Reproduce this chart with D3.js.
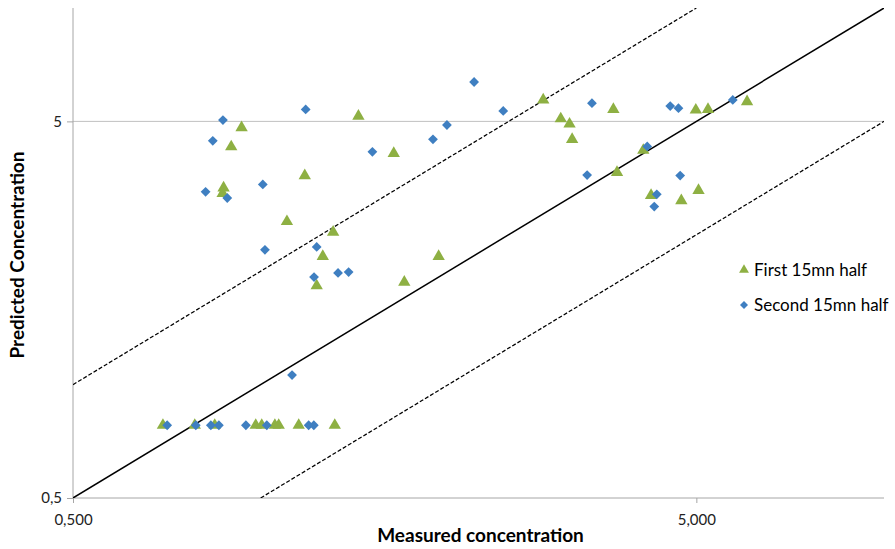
<!DOCTYPE html>
<html>
<head>
<script src="https://d3js.org/d3.v7.min.js"></script>
<style>
  body { margin: 0; background: #fff; }
  svg text { font-family: Lato, "Open Sans", sans-serif; fill: #000; }
</style>
</head>
<body>
<div id="chart"></div>
<script>
// measured (x) / predicted (y) concentrations
var firstX  = [0.932, 0.897, 1.435, 1.635, 1.177, 0.872, 0.869, 1.102, 1.307, 1.258, 1.230,
               2.84, 3.03, 3.13, 3.16, 3.68, 4.99, 5.22, 6.03, 4.11, 3.73, 4.23, 4.73, 5.04, 1.93, 1.70,
               0.697, 0.784, 0.844, 0.982, 1.004, 1.054, 1.069, 1.151, 1.315];
var firstY  = [4.81, 4.28, 5.16, 4.11, 3.59, 3.33, 3.22, 2.71, 2.54, 2.19, 1.83,
               5.70, 5.08, 4.92, 4.48, 5.38, 5.36, 5.38, 5.64, 4.19, 3.66, 3.18, 3.08, 3.28, 2.19, 1.87,
               0.78, 0.78, 0.78, 0.78, 0.78, 0.78, 0.78, 0.78, 0.78];
var secondX = [0.870, 1.181, 0.838, 1.008, 0.816, 0.884, 1.016, 1.230, 1.218, 1.331, 1.384, 1.511,
               2.20, 2.45, 1.99, 1.89, 3.40, 4.54, 4.68, 5.72, 4.17, 3.34, 4.71, 4.32, 4.28, 1.123,
               0.708, 0.787, 0.832, 0.857, 0.947, 1.023, 1.194, 1.217];
var secondY = [5.04, 5.38, 4.44, 3.40, 3.25, 3.13, 2.28, 2.32, 1.93, 1.98, 1.99, 4.15,
               6.36, 5.33, 4.89, 4.48, 5.59, 5.49, 5.42, 5.70, 4.29, 3.60, 3.59, 3.20, 2.97, 1.06,
               0.78, 0.78, 0.78, 0.78, 0.78, 0.78, 0.78, 0.78];
var refFactors = [2, 1, 0.5];
var xTicks = [0.5, 5], yTicks = [0.5, 5];
var domain = [0.5, 10];

var w = 895, h = 549;
var margin = {top: 8, right: 11, bottom: 51, left: 73};
var iw = w - margin.left - margin.right, ih = h - margin.top - margin.bottom;

var svg = d3.select("#chart").append("svg")
  .attr("width", w).attr("height", h);
var g = svg.append("g")
  .attr("transform", "translate(" + margin.left + "," + margin.top + ")");

var x = d3.scaleLog().domain(domain).range([0, iw]);
var y = d3.scaleLog().domain(domain).range([ih, 0]);

svg.append("defs").append("clipPath").attr("id", "clip")
  .append("rect").attr("width", iw).attr("height", ih);

// grid line at 5
g.append("line")
  .attr("x1", 0).attr("x2", iw)
  .attr("y1", y(5)).attr("y2", y(5))
  .attr("stroke", "#c0c0c0").attr("stroke-width", 1);

// axes
var xAxis = g.append("g").attr("transform", "translate(0," + ih + ")")
  .call(d3.axisBottom(x).tickValues(xTicks).tickSizeOuter(0).tickSize(5).tickPadding(11)
    .tickFormat(function(d) { return d3.format(".3f")(d).replace(".", ","); }));
var yAxis = g.append("g")
  .call(d3.axisLeft(y).tickValues(yTicks).tickSizeOuter(0).tickSize(6).tickPadding(5)
    .tickFormat(function(d) { return String(d).replace(".", ","); }));
[xAxis, yAxis].forEach(function(a) {
  a.select(".domain").attr("stroke", "#a6a6a6");
  a.selectAll(".tick line").attr("stroke", "#a6a6a6");
  a.selectAll("text").attr("font-size", 15).style("fill", "#222");
});
yAxis.select(".domain").attr("d", "M0," + ih + "V0");
xAxis.select(".domain").attr("d", "M0,0H" + iw);

// reference lines y = k*x
var lines = g.append("g").attr("clip-path", "url(#clip)");
refFactors.forEach(function(k) {
  var x0 = Math.max(domain[0], domain[0] / k), x1 = Math.min(domain[1], domain[1] / k);
  lines.append("line")
    .attr("x1", x(x0)).attr("y1", y(x0 * k))
    .attr("x2", x(x1)).attr("y2", y(x1 * k))
    .attr("stroke", "#000")
    .attr("stroke-width", k === 1 ? 1.5 : 1.25)
    .attr("stroke-dasharray", k === 1 ? null : "4,2");
});

var tri = d3.symbol().type(d3.symbolTriangle).size(66);
var dia = d3.symbol().type(d3.symbolSquare).size(48);

g.append("g").selectAll("path")
  .data(d3.range(firstX.length))
  .enter().append("path")
  .attr("d", tri)
  .attr("transform", function(i) { return "translate(" + x(firstX[i]) + "," + y(firstY[i]) + ")"; })
  .attr("fill", "#8eb043");

g.append("g").selectAll("path")
  .data(d3.range(secondX.length))
  .enter().append("path")
  .attr("d", dia)
  .attr("transform", function(i) { return "translate(" + x(secondX[i]) + "," + y(secondY[i]) + ") rotate(45)"; })
  .attr("fill", "#3f7fc1");

// axis titles
svg.append("text")
  .attr("x", margin.left + iw / 2 + 2).attr("y", 542)
  .attr("text-anchor", "middle").attr("font-size", 19).attr("font-weight", "bold")
  .text("Measured concentration");
svg.append("text")
  .attr("transform", "translate(24," + (margin.top + ih / 2 + 2) + ") rotate(-90)")
  .attr("text-anchor", "middle").attr("font-size", 19).attr("font-weight", "bold")
  .text("Predicted Concentration");

// legend
var legend = svg.append("g").attr("transform", "translate(744,270)");
legend.append("path").attr("d", d3.symbol().type(d3.symbolTriangle).size(42))
  .attr("transform", "translate(0,0)").attr("fill", "#8eb043");
legend.append("text").attr("x", 10).attr("y", 6).attr("font-size", 17).text("First 15mn half");
legend.append("path").attr("d", d3.symbol().type(d3.symbolSquare).size(32))
  .attr("transform", "translate(0,35) rotate(45)").attr("fill", "#3f7fc1");
legend.append("text").attr("x", 10).attr("y", 41).attr("font-size", 17).text("Second 15mn half");
</script>
</body>
</html>
